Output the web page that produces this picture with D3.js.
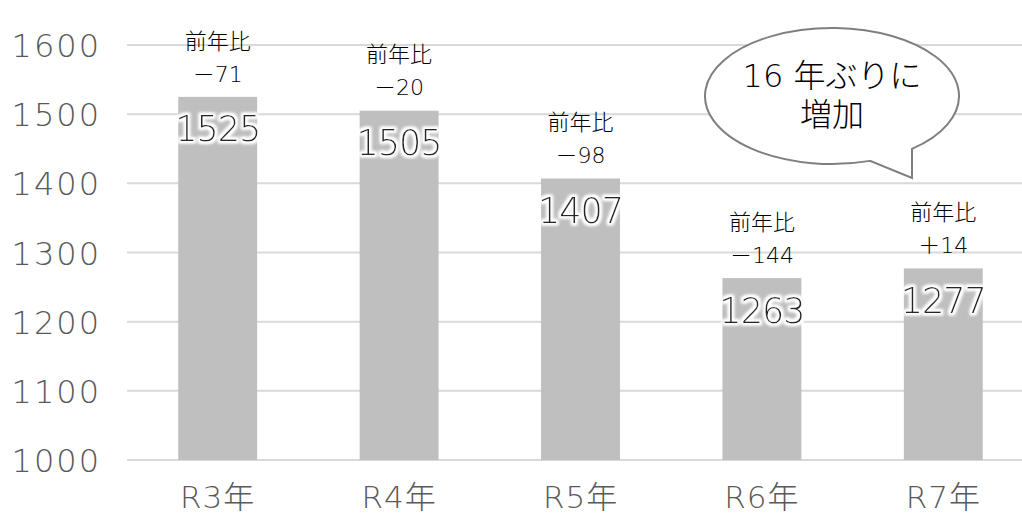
<html>
<head>
<style>
body { margin: 0; padding: 0; background: #fff; }
svg { display: block; }
text { font-family: "DejaVu Sans", "Noto Sans CJK JP", sans-serif; font-weight: 200; }
.tick text { fill: #595959; }
.grid line { stroke: #d9d9d9; stroke-width: 2; }
.bar { fill: #bfbfbf; }
.val { fill: #262626; font-size: 35px; text-anchor: middle; letter-spacing: -1px; }
.note { fill: #000; font-size: 22px; text-anchor: middle; }
.bubble { fill: #fff; stroke: #7f7f7f; stroke-width: 2; }
.btext { fill: #000; font-size: 32px; text-anchor: middle; }
</style>
<script src="https://cdnjs.cloudflare.com/ajax/libs/d3/7.8.5/d3.min.js"></script>
</head>
<body>
<svg width="1022" height="515"></svg>

<script>
var width = 1022, height = 515

var categories = ['R3年', 'R4年', 'R5年', 'R6年', 'R7年']
var values = [1525, 1505, 1407, 1263, 1277]
var changes = [-71, -20, -98, -144, 14]
var yTicks = [1000, 1100, 1200, 1300, 1400, 1500, 1600]
var bubbleLines = ['16 年ぶりに', '増加']

var svg = d3.select('svg')

var x = d3.scaleBand().domain(categories).range([127, 1034]).paddingInner(0.565).paddingOuter(0.2825)
var y = d3.scaleLinear().domain([1000, 1600]).range([460, 45])

// white halo behind value labels
var f = svg.append('defs').append('filter').attr('id', 'glow')
  .attr('x', '-20%').attr('y', '-30%').attr('width', '140%').attr('height', '160%')
f.append('feMorphology').attr('in', 'SourceAlpha').attr('operator', 'dilate').attr('radius', 2).attr('result', 'd')
f.append('feGaussianBlur').attr('in', 'd').attr('stdDeviation', 1.5).attr('result', 'b')
f.append('feFlood').attr('flood-color', '#fff')
f.append('feComposite').attr('in2', 'b').attr('operator', 'in').attr('result', 'w')
var m = f.append('feMerge')
m.append('feMergeNode').attr('in', 'w')
m.append('feMergeNode').attr('in', 'w')
m.append('feMergeNode').attr('in', 'SourceGraphic')

// gridlines
svg.append('g').attr('class', 'grid')
  .selectAll('line').data(yTicks).join('line')
  .attr('x1', 127).attr('x2', width)
  .attr('y1', d => y(d)).attr('y2', d => y(d))

// y axis labels
var ya = svg.append('g').attr('transform', 'translate(101,0)')
  .call(d3.axisLeft(y).tickValues(yTicks).tickSize(0).tickPadding(0).tickFormat(d3.format('d')))
ya.select('.domain').remove()
ya.selectAll('text').attr('font-size', 32).attr('letter-spacing', 2).attr('dy', '0.36em')

// x axis labels
var xa = svg.append('g').attr('transform', 'translate(0,460)')
  .call(d3.axisBottom(x).tickSize(0).tickPadding(0))
xa.select('.domain').remove()
xa.selectAll('text').attr('font-size', 31).attr('letter-spacing', 1).attr('dy', 0).attr('y', 48)

// bars
svg.append('g').selectAll('rect').data(values).join('rect')
  .attr('class', 'bar')
  .attr('x', (d, i) => x(categories[i]))
  .attr('width', x.bandwidth())
  .attr('y', d => y(d))
  .attr('height', d => y(1000) - y(d))

// value labels
svg.append('g').selectAll('text').data(values).join('text')
  .attr('class', 'val')
  .attr('filter', 'url(#glow)')
  .attr('x', (d, i) => x(categories[i]) + x.bandwidth() / 2)
  .attr('y', d => y(d) + 32)
  .attr('dy', '0.36em')
  .text(d => d)

// 前年比 notes
var notes = svg.append('g').selectAll('g').data(changes).join('g')
  .attr('transform', (d, i) => 'translate(' + (x(categories[i]) + x.bandwidth() / 2) + ',' + y(values[i]) + ')')
notes.append('text').attr('class', 'note').attr('y', -56).attr('dy', '0.35em').text('前年比')
notes.append('text').attr('class', 'note').attr('y', -23).attr('dy', '0.35em')
  .text(d => (d < 0 ? '－' : '＋') + Math.abs(d))

// speech bubble
var cx = 832, cy = 96, rx = 127, ry = 68
var a1 = Math.acos((870 - cx) / rx), a2 = Math.acos((912 - cx) / rx)
var p1 = [870, cy + ry * Math.sin(a1)], p2 = [912, cy + ry * Math.sin(a2)]
var path = 'M' + p2[0] + ',' + p2[1] +
  ' A' + rx + ',' + ry + ' 0 1,0 ' + p1[0] + ',' + p1[1] +
  ' L912,178 Z'
svg.append('path').attr('class', 'bubble').attr('d', path)
svg.append('g').selectAll('text').data(bubbleLines).join('text')
  .attr('class', 'btext')
  .attr('x', cx)
  .attr('y', (d, i) => 76 + i * 39)
  .attr('dy', '0.35em')
  .text(d => d)
</script>
</body>
</html>
